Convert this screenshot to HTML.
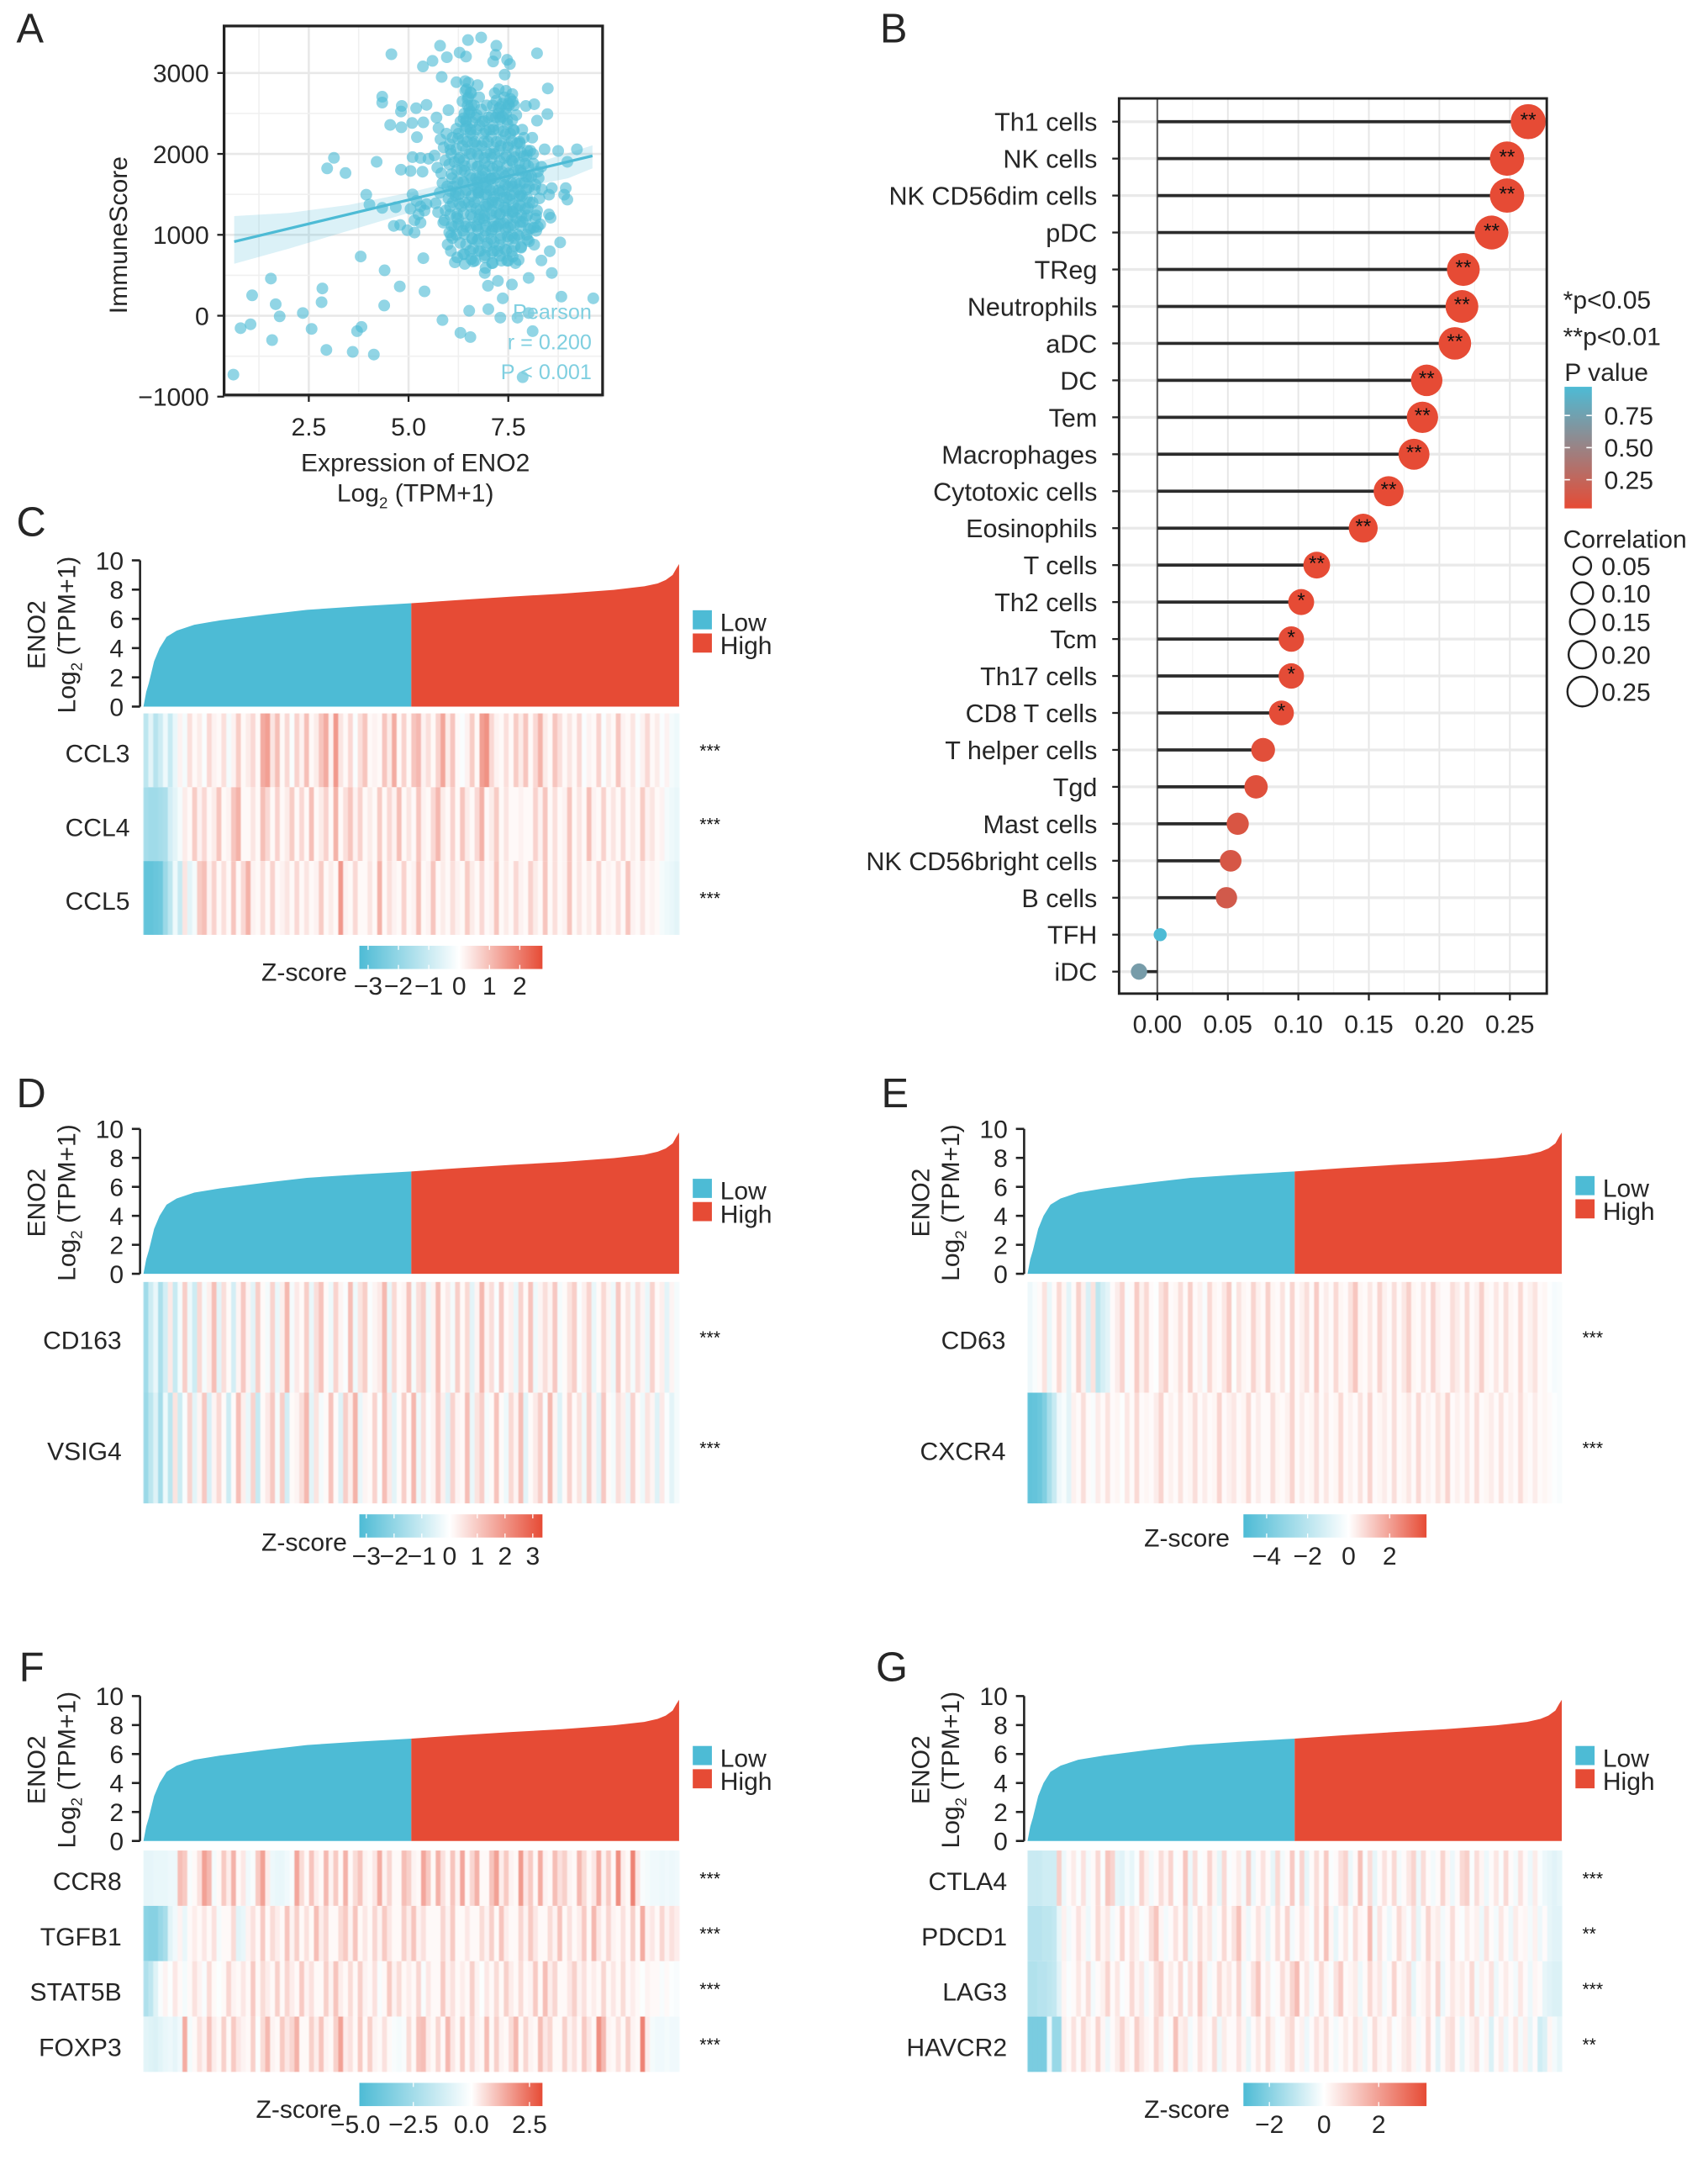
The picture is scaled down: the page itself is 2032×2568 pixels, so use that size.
<!DOCTYPE html>
<html lang="en">
<head>
<meta charset="utf-8">
<title>ENO2 immune correlation figure</title>
<style>
html,body{margin:0;padding:0;background:#fff;}
svg{display:block;}
text{font-family:"Liberation Sans",sans-serif;fill:#262626;}
</style>
</head>
<body>
<svg id="figure" xmlns="http://www.w3.org/2000/svg" width="2032" height="2568" viewBox="0 0 1250 1579.7">
<defs id="defs"><filter id="soft" x="-2%" y="-2%" width="104%" height="104%"><feGaussianBlur stdDeviation="0.4 0"/></filter></defs>
</svg>
<script>
/* ---------- Panel A data ---------- */
const scatterX=[.61,.79,1.04,1.08,1.55,1.58,1.67,1.77,2.35,2.57,2.84,2.82,2.94,3.6,3.71,3.82,4.13,4.39,4.4,3.8,
4.78,5.4,5.37,5.85,6.3,6.55,6.52,7,7.3,7.73,8.01,8.11,7.86,8.83,9.63,7.36,7.59,6.99,7.24,6.91,
8.01,8.59,8.8,8.33,8.54,8.15,8.52,8.56,8.94,8.9,8.98,8.52,8.59,8.41,8.75,9.22,8.98,8.33,8.49,8.22,
8.48,8.22,8.15,7.94,6.82,6.49,5.79,7.2,6.28,6.44,5.96,7.18,7.12,7.47,7.54,5.6,5.36,4.57,5.83,7.41,
6.2,4.34,4.34,4.83,4.81,5.19,5.45,6,4.54,4.82,5.09,5.37,5.21,4.2,3.13,2.96,3.42,4.81,5.05,3.94,
4.02,4.34,4.68,4.63,4.79,4.97,5.15,5.1,5.2,5.3,5.45,5.05,5.25,5.4,5.15,5.3,5.1,5.3,5.5,5.35,
5.7,5.75,5.8,5.65,5.72,5.85,5.78,5.68,5.74,5.9,5.95,5.88,5.92,5.82,5.97,6,5.93,5.87,6.02,5.98,
6.1,6.05,6.15,6.08,6.12,6.18,6.04,6.2,6.14,6.1,6.06,6.22,6.16,6.3,6.25,6.35,6.28,6.33,6.38,6.26,
6.32,6.24,6.36,6.29,6.4,6.42,6.45,6.5,6.48,6.52,6.44,6.55,6.47,6.53,6.41,6.58,6.46,6.51,6.56,6.43,
6.6,6.54,6.62,6.57,6.64,6.68,6.7,6.66,6.72,6.75,6.69,6.74,6.65,6.78,6.71,6.76,6.8,6.67,6.73,6.77,
6.82,6.85,6.88,6.84,6.9,6.86,6.92,6.89,6.95,6.87,6.93,6.98,6.91,6.96,7,7.03,6.99,7.05,7.02,7.08,
7.04,7.1,7.06,7.12,7.07,7.14,7.09,7.16,7.11,7.18,7.13,7.2,7.15,7.22,7.17,7.25,7.19,7.28,7.21,7.3,
7.23,7.33,7.26,7.35,7.29,7.38,7.31,7.4,7.34,7.42,7.37,7.45,7.39,7.48,7.41,7.5,7.44,7.52,7.47,7.55,
7.49,7.58,7.51,7.6,7.53,7.62,7.56,7.65,7.59,7.68,7.61,7.7,7.63,7.72,7.66,7.75,7.69,7.78,7.71,7.8,
7.74,7.82,7.76,7.85,7.79,7.88,7.81,7.9,7.84,7.93,7.86,7.96,7.89,7.98,7.92,8,7.95,8.03,7.97,8.06,
8.02,8.1,8.05,8.13,8.08,8.16,8.11,8.2,8.14,8.24,8.18,8.28,8.22,8.3,8.26,8.34,8.12,8.18,8.2,8.24,
6.7,6.9,7.1,7.3,7.5,7.7,6.8,7,7.2,7.4,7.6,7.8,6.75,6.95,7.15,7.35,7.55,7.75,6.85,7.05,
6.03,6.07,6.02,6.09,6.05,6.11,6.04,6.08,6.06,6.2,6.24,6.19,6.26,6.21,6.23,6.18,6.27,6.22,6.25,6.2,
6.38,6.42,6.37,6.44,6.39,6.41,6.36,6.43,6.4,6.38,6.42,6.39,6.44,6.37,6.41,6.56,6.6,6.55,6.61,6.57,
6.59,6.54,6.62,6.58,6.56,6.6,6.55,6.59,6.62,6.57,6.61,6.72,6.76,6.71,6.78,6.73,6.75,6.7,6.77,6.74,
6.72,6.76,6.71,6.78,6.73,6.75,6.9,6.94,6.89,6.96,6.91,6.93,6.88,6.95,6.92,6.9,6.94,6.89,6.96,6.91,
6.93,7.08,7.12,7.07,7.14,7.09,7.11,7.06,7.13,7.1,7.08,7.12,7.07,7.14,7.09,7.11,7.26,7.3,7.25,7.32,
7.27,7.29,7.24,7.31,7.28,7.26,7.3,7.25,7.32,7.27,7.29,7.44,7.48,7.43,7.5,7.45,7.47,7.42,7.49,7.46,
7.44,7.48,7.43,7.5,7.45,7.47,7.6,7.64,7.59,7.66,7.61,7.63,7.58,7.65,7.62,7.6,7.64,7.59,7.66,7.61,
7.78,7.82,7.77,7.84,7.79,7.81,7.76,7.83,7.8,7.78,7.82,7.96,8,7.95,8.02,7.97,7.99,7.94,8.01,7.98,
6.35,6.42,6.5,6.58,6.4,6.48,6.55,6.44,6.52,6.46,7.2,7.3,7.4,7.5,7.6,7.25,7.35,7.45,7.55,7.65];
const scatterY=[-728,-154,-106,252,459,-301,142,-8,33,-163,337,167,-423,-447,-191,-138,-480,126,561,732,
362,301,711,-53,-211,-264,61,81,-24,-24,33,-191,-760,236,215,215,386,370,431,528,
467,528,906,683,797,878,1252,1211,1577,1496,1435,1496,1577,2057,2037,2057,1902,1841,2809,3244,
2492,2411,2614,2593,3439,3407,3337,3337,3252,3203,3195,3224,3142,3163,3110,3150,3081,3232,2951,2980,
2886,2707,2634,2593,2524,2565,2606,2541,2358,2329,2382,2390,2207,1902,1951,1821,1764,1805,1789,1496,
1374,1333,1341,1110,1122,1057,1028,1500,1420,1350,1380,1320,1250,1300,1180,1150,1960,1950,1940,1780,
2450,2320,2180,1980,1830,1640,1520,1390,1280,1180,2250,2080,1920,1760,1600,1450,1300,1150,1030,880,
2200,2050,1900,1750,1600,1480,1350,1220,1100,960,800,720,660,2400,2250,2100,1950,1800,1650,1500,
1350,1200,1050,900,760,2900,2800,2700,2600,2500,2400,2300,2150,2000,1850,1700,1550,1400,1250,1100,
950,800,670,2750,2600,2450,2300,2150,2000,1850,1700,1550,1400,1250,1100,950,800,680,2850,2700,
2550,2400,2250,2100,1950,1800,1650,1500,1350,1200,1050,900,750,2600,2450,2300,2150,2000,1850,1700,
1550,1400,1250,1100,950,800,650,2750,2600,2450,2300,2150,2000,1850,1700,1550,1400,1250,1100,950,
800,680,2800,2620,2450,2280,2100,1950,1780,1620,1460,1300,1140,980,820,680,2780,2600,2420,2250,
2080,1920,1760,1600,1440,1280,1120,960,800,650,2650,2480,2300,2130,1960,1800,1640,1480,1320,1160,
1000,840,690,2300,2130,1970,1800,1640,1480,1320,1160,1000,2200,2040,1880,1720,1560,1400,1240,1080,
920,2200,2040,1880,1720,1560,1400,1240,1090,1780,1620,1450,1300,1130,1700,1560,2000,1200,1050,1100,
1120,1180,1060,1140,1090,1210,1310,1380,1270,1340,1290,1360,1520,1580,1470,1540,1490,1560,1720,1690,
2120,2000,1870,1700,1540,1400,1250,1110,990,2310,2190,2060,1930,1800,1660,1530,1390,1260,1130,1000,
2440,2310,2180,2050,1920,1790,1660,1530,1400,1270,1140,1010,880,760,640,2520,2390,2260,2130,2000,
1870,1740,1610,1480,1350,1220,1090,960,830,700,2230,2100,1970,1840,1710,1580,1450,1320,1190,1060,
930,800,2480,2350,1650,1520,2410,2280,2150,2020,1890,1760,1630,1500,1370,1240,1110,980,850,720,
590,2470,2340,2210,2080,1950,1820,1690,1560,1430,1300,1170,1040,910,780,650,2560,2430,2300,2170,
2040,1910,1780,1650,1520,1390,1260,1130,1000,870,740,2500,2370,2240,2110,1980,1850,1720,1590,1460,
1330,1200,1070,940,810,680,2420,2290,2160,2030,1900,1770,1640,1510,1380,1250,1120,990,860,730,
2150,2020,1890,1760,1630,1500,1370,1240,1110,980,850,1980,1850,1720,1590,1460,1330,1200,1070,940,
2650,2780,2880,2600,2500,2680,2760,2420,2550,2340,2660,2580,2700,2620,2740,2500,2460,2560,2680,2600];
const fitX=[.63,9.61];
const fitY=[915,1976];
const ribbonX=[.63,2,3.5,5,6,7,8,9,9.61];
const ribbonLow=[642,830,1050,1270,1400,1510,1600,1700,1821];
const ribbonHigh=[1232,1270,1370,1520,1640,1760,1860,2010,2106];
const scatterXTicks=[2.5,5,7.5];
const scatterYTicks=[-1000,0,1000,2000,3000];
const pearsonLabels=['Pearson','r = 0.200','P < 0.001'];

/* ---------- Panel B data ---------- */
const cellTypes=['Th1 cells','NK cells','NK CD56dim cells','pDC','TReg','Neutrophils','aDC','DC','Tem','Macrophages','Cytotoxic cells','Eosinophils','T cells','Th2 cells','Tcm','Th17 cells','CD8 T cells','T helper cells','Tgd','Mast cells','NK CD56bright cells','B cells','TFH','iDC'];
const correlations=[.263,.248,.248,.237,.217,.216,.211,.191,.188,.182,.164,.146,.113,.102,.095,.095,.088,.075,.07,.057,.052,.049,.002,-.013];
const pValues=[.02,.02,.02,.02,.02,.02,.02,.02,.02,.02,.02,.02,.02,.02,.03,.03,.03,.05,.06,.1,.12,.15,.96,.7];
const significance=['**','**','**','**','**','**','**','**','**','**','**','**','**','*','*','*','*','','','','','','',''];
const corrXTicks=[0,.05,.1,.15,.2,.25];
const pLegendTicks=[.75,.5,.25];
const corrLegendValues=[.05,.1,.15,.2,.25];

/* ---------- Shared ENO2 ranked distribution ---------- */
const rankFractions=[0,.005,.01,.02,.03,.043,.062,.095,.143,.23,.305,.4,.5,.59,.687,.782,.878,.935,.96,.975,.988,.995,1];
const enoValues=[0,1,1.6,3.1,4,4.77,5.2,5.6,5.9,6.3,6.62,6.85,7.07,7.29,7.52,7.72,7.98,8.22,8.42,8.65,9,9.45,9.75];
const enoTicks=[0,2,4,6,8,10];

/* ---------- Heatmap z-scores (ranked left to right by ENO2) ---------- */
const ccl3=[-1.2,-.5,-1.3,-.9,-.3,-1,-.4,.2,-.2,.5,.1,.3,-.1,.6,.2,.1,.5,-.2,.2,.8,.1,.3,.6,.1,1.3,1.5,.4,1,.1,.6,-.1,.7,.2,1,.1,.3,.9,1.3,.2,1.6,.4,.1,.6,-.1,.5,.9,.1,.2,.1,.9,.3,1.3,.1,.7,.1,.9,1.1,.2,.5,.1,.7,1.4,.3,.9,.1,-.1,.2,.8,.1,1.5,1.7,.6,.2,.1,.5,.1,.8,.3,.9,.1,.6,1.2,.3,.1,.9,.5,.1,.4,.1,.6,-.1,.2,.1,.7,-.1,.3,.1,.9,.2,.1,.4,-.1,.2,.6,.1,.3,-.1,.2,-.2,-.3];
const ccl4=[-1.6,-1.7,-1.7,-1.6,-1.5,-.8,-.5,-.2,.3,.1,.8,.2,.6,.1,.3,.9,.1,.2,.9,1.2,.1,.1,.4,.1,1,.6,.1,.7,.1,.3,.8,.1,.6,.1,1,.1,.3,.7,.1,1.2,.1,.5,.9,.2,.7,.1,.3,.1,.8,.1,.6,.2,1,.1,.4,.1,.9,.2,.1,.6,1.1,.3,.1,.7,.1,.9,.3,.1,.6,1.2,.1,.3,.8,.1,.4,.1,.1,.2,.1,.1,.7,.2,.9,.1,.5,.1,.2,.9,.1,.4,.1,1,.2,.1,.7,.1,.4,.1,.6,.1,.3,.1,.8,.2,.4,.1,.2,-.2,-.3,-.4];
const ccl5=[-2.8,-2.8,-2.7,-2.6,-1.8,-1.2,-.3,-1,.4,-.5,-.2,.8,1,.2,.7,.1,.5,.1,.9,.1,.6,1.2,.2,.1,.5,.1,.7,.1,.2,.4,.1,.6,.1,.4,.1,.2,.8,.1,.3,.1,1.6,.2,.1,.6,.1,.1,.4,.1,1.2,.1,.5,.2,.1,.7,.1,.2,1,.1,.2,.9,.1,.3,.1,.5,.2,.1,.8,.3,.1,.6,.1,.2,.9,.1,.3,.1,.6,.2,.1,.7,.3,.1,.9,.1,.5,.1,.2,.9,.1,.4,.1,.3,.1,.7,.1,.2,.1,.5,.1,.9,.2,.1,.4,.1,.2,.1,-.2,-.3,-.4,-.5];
const cd163=[-1.7,-.9,-.4,-1.5,-.8,.4,-1,-.2,.9,-.3,-.9,.7,-.2,.3,1.2,-.5,.6,.1,-.8,.2,1,.2,-.5,.9,.1,-.2,.8,-.4,.3,1.3,-.2,.4,.1,.9,-.4,.6,1.1,.1,-.3,.8,.2,-.1,1.2,-.3,.5,.9,-.1,.2,.4,1.3,-.4,.7,.1,.2,1.1,-.2,.6,.9,-.3,.2,1.2,.1,.4,-.2,.9,.1,.7,-.5,.2,1.3,.2,.6,-.1,1,.1,.3,-.4,.8,.1,1.1,-.3,.2,.6,.2,1,-.2,.1,.5,.9,-.1,.3,.8,-.4,.1,.7,.2,-.3,1,.1,.5,-.2,.6,.2,-.4,.8,.1,.3,-.5,.2,-.2];
const vsig4=[-1.8,-1.2,-.6,-1.6,-.3,-1.2,.5,-.9,-.1,.8,-.5,.2,1,-.7,.2,.7,.1,-.9,.1,1.2,.3,-.4,.8,-1,.1,.4,1,-.2,.9,-.8,.1,.2,.6,1.3,-.5,.5,-.2,.1,1.1,.1,-.6,.9,.3,1.4,-.4,.2,.1,.8,-.1,1.2,.4,-.5,.1,.9,.1,1.3,-.3,.6,-.1,.2,1,.3,-.6,.8,.2,.1,1.2,-.4,.5,.9,-.2,.1,1.1,.1,-.3,.7,.2,1.2,-.5,.1,.4,.9,-.1,1.3,.2,-.6,.1,.8,.1,.5,-.3,.9,.2,-.5,1,.1,-.2,.6,.3,-.4,.8,.1,-.3,.5,.2,-.6,.4,-.1,-.5,-.2];
const cd63=[-.5,-.2,.1,.6,-.6,.1,.8,.2,-.8,.1,1,.3,-1.1,.6,-1.9,-1.2,-.8,.1,.4,.9,-.2,.1,1.1,.3,.8,.1,-.1,.6,1,.1,.2,.7,.1,1,.1,.3,-.2,.8,.2,.1,.5,1.1,-.1,.6,.2,.1,.9,.3,.1,1,.2,.1,.6,-.1,.9,.1,.3,.7,.1,1.1,.1,.4,.1,.8,.2,.1,.6,1.2,.2,.1,.5,.1,.9,.3,.1,.7,.1,.5,1,.2,.1,.6,.1,.9,.3,.1,.1,.7,.4,.1,.8,.1,.3,1,.2,.1,.5,.1,.7,.2,.1,.8,.1,.3,.6,.1,.2,-.1,-.3,-.2];
const cxcr4=[-4.5,-4.4,-4.2,-3.6,-2.5,-1.6,-.5,-.2,-.8,.3,.1,.7,.1,-.2,.4,.1,.6,.1,.2,-.1,.5,.1,.8,.1,.2,.1,.4,.9,.1,.3,.1,.6,.1,.2,.7,.1,.4,.1,.2,.9,.1,.3,.5,.1,.2,.8,.1,.4,.1,.1,.7,.2,.1,.3,.9,.1,.4,.1,.2,.7,.1,.5,.1,.2,.8,.1,.3,.1,.6,.1,.9,.1,.2,.4,.1,.7,.1,.2,.5,.1,.8,.1,.3,.1,.6,.2,.9,.1,.3,.1,.5,.1,.7,.1,.2,.4,.1,.6,.1,.3,.1,.7,.2,.1,.4,.1,.2,.1,-.1,-.2];
const ccr8=[-.7,-.7,-.6,-.6,-.6,-.5,-.5,1.1,.9,-.2,.1,.5,1.6,1.2,-.3,.1,.9,.3,1.3,.1,.4,-.4,-.2,.9,1.6,.3,-.5,-.6,-.6,-.4,-.2,1.5,.6,.1,1,.3,.1,1.2,.2,.9,.1,1.3,.1,.6,1,.2,.1,.4,1.4,.2,.7,.1,.1,1.1,.8,.2,.1,1.5,.9,.1,1.3,.5,.1,1,.2,1.5,.1,.7,1.3,.1,.1,1,1.6,.3,.9,.2,.1,1.7,.4,.9,.1,1.4,.2,.1,1.1,.5,.8,.2,.1,1.2,.6,.1,.4,1.4,.2,.9,.1,1.9,.3,.1,2.1,.4,-.2,-.3,-.4,-.4,-.5,-.4,-.5,-.4];
const tgfb1=[-3.2,-3.3,-3.3,-2.8,-2.4,-.8,-.4,.2,-.6,.1,.3,.1,.4,.1,.5,-.3,.1,.1,.6,-.8,-.6,.2,.5,.1,.9,.1,.6,.3,.1,1,.2,.8,.1,.5,.1,1.1,.3,.7,.1,.1,.6,.9,.2,1,.1,.4,.1,.7,.2,.9,.4,.1,.1,.8,.3,1,.2,.5,.1,.1,.1,.7,.2,.9,.1,.1,.4,.1,.1,.6,.2,.8,.1,1,.3,.1,.1,.7,.2,.9,.4,.1,.1,.6,.2,1,.1,.5,.1,.3,.9,.1,1.2,.4,.1,.7,.2,.1,.5,.1,.8,.1,1.4,.2,.4,.1,.7,.2,.5,.3];
const stat5b=[-2.2,-1.8,-.9,-.2,.2,-.1,.4,.1,-.3,.1,.5,.2,-.2,.6,.1,-.1,.1,.7,.2,.1,.4,.1,.9,.1,.6,.3,.1,.8,.1,.7,.3,.1,.9,.2,.5,.1,.1,.8,.2,1,.3,.1,.6,.1,.8,.2,.1,.5,-.2,.1,.9,.2,.6,.1,.3,.1,.7,-.2,.4,.1,.1,.9,.2,.5,.1,.3,.1,.8,.2,-.1,.4,.1,.6,.1,.8,.3,.1,.6,.1,.2,.9,.1,1.1,.3,.7,.1,.1,.4,.8,.2,.5,.1,.3,.1,.7,.1,.4,.1,.6,.1,.3,.1,-.1,.2,.1,.1,-.2,.1,-.1,-.2];
const foxp3=[-.8,-.9,-1,-.8,-.6,-.5,-.7,-.4,1.4,-.3,.1,.5,.2,1,.3,.1,.8,.1,.9,.4,.2,.1,.8,-.1,.6,1.2,.2,.1,.9,.4,.7,1.3,.1,.1,.8,.3,1,.2,.1,.8,1.6,.3,.5,.1,.9,.1,.8,.2,.1,.5,.1,-.2,-.3,-.2,.6,.1,1,1.1,.3,.1,.7,.1,1.2,.4,.1,.9,.1,.7,.2,.1,1.1,.1,.8,.2,.1,.6,1.2,.1,.7,.2,.1,1.1,.4,.7,.1,.1,.8,.2,.5,.1,.9,.4,.1,1.9,1.2,.2,.1,.5,.1,.8,.2,.1,2.1,.3,-.3,-.4,-.4,-.3,-.4,-.4];
const ctla4=[-.9,-.9,-.9,-.8,-.8,-.8,1,-.3,.1,.4,-.1,.6,-.2,.1,.8,-.1,1.2,.9,-.4,-.5,-.2,-.4,-.1,.9,.3,-.2,.1,.7,.2,.9,-.1,.1,1.2,-.3,.7,-.1,.1,.9,.2,-.4,.8,-.1,.1,.4,-.2,1,-.3,.1,.6,.1,-.4,.8,-.2,.1,1.1,-.1,.9,-.4,.1,.7,.1,1.1,-.1,.1,.6,.9,-.3,.1,1.3,-.1,.7,-.4,.1,.6,.1,.8,-.2,.1,.5,.9,-.3,.7,.1,-.2,.1,.9,.2,-.3,.1,.8,1,-.1,.7,.2,-.3,.1,.5,-.1,.8,.1,-.2,.6,.1,-.3,.4,-.1,-.3,-.4,-.5,-.4];
const pdcd1=[-1.2,-1.2,-1.2,-1.1,-1.1,-1,-.4,.3,-.2,.1,.6,.2,-.3,.1,.8,.2,.5,-.2,.1,.9,.1,.6,.3,-.1,.1,.7,1.2,.2,-.2,.1,.6,.1,.9,-.3,.1,.7,.2,.5,-.2,.1,.8,.1,.6,1.3,.2,-.3,.1,.6,.2,-.4,.1,.7,.1,.9,-.2,.1,.6,.2,-.1,.8,.1,1.3,.2,-.4,.1,.5,-.1,.7,.2,.1,1.4,-.2,.6,.1,-.3,.1,.8,.3,-.1,.6,-.4,.1,.9,.2,.4,-.2,.1,.7,.1,-.1,.4,.1,.3,-.3,.6,.1,-.2,.5,.1,-.3,.4,.1,.2,-.2,.3,-.3,.1,-.4,-.5,-.5];
const lag3=[-1.3,-1.3,-1.2,-1.2,-1.1,-1,-.5,.2,-.1,.1,.5,.1,.7,-.2,.1,.3,.9,.1,.5,-.1,.1,.8,.2,.5,-.2,.1,.7,1,.1,.4,.1,.8,-.1,.6,.1,1.1,.3,-.2,.1,.8,.2,.5,.1,.9,-.2,.1,.6,1.2,.1,.4,-.1,.1,.7,.2,.9,1.4,.1,.5,-.2,.1,.8,.2,-.1,.6,1.1,.1,.2,.4,-.3,.1,.8,.2,.5,-.2,.1,.9,.1,.3,.7,-.4,.1,.2,.6,.1,.9,-.3,.1,.5,.2,.4,.1,.8,-.2,.3,.1,.6,-.3,.1,.4,.1,-.2,.5,.1,-.3,.2,.1,-.4,-.5,-.6,-.6];
const havcr2=[-2.2,-2.2,-2.2,-2.2,-.3,-1.7,-1.7,.3,.1,.6,.1,.8,.3,.1,.9,.2,-.3,.1,.4,.9,.3,.1,1,.5,.2,.1,.9,.4,-.1,.1,1.3,.3,.5,-.2,.1,.6,.2,.1,.7,-.3,.4,.1,.1,.6,.2,-.4,.1,.5,.1,.8,.3,-.1,.1,.5,.8,.1,.3,-.3,.1,.6,.2,.7,.1,-.2,.1,.4,.1,.6,.3,-.3,.1,.7,.2,.1,.5,-.1,.1,.4,.6,.2,-.2,.1,.8,.1,-.5,.1,.5,.7,.1,-.4,.1,.3,.6,-.1,.2,-.6,.1,.4,-.3,.1,.5,-.2,.3,-.4,.1,-.8,-.6,.2,-.2,-.4];

/* ---------- Helpers ---------- */
const SVGNS='http://www.w3.org/2000/svg';
const root=document.getElementById('figure');
const defs=document.getElementById('defs');
const BLUE=[77,187,213],RED=[230,75,53],WHITE=[255,255,255];
const FS=18.5;
function mix(a,b,t){t=Math.max(0,Math.min(1,t));return 'rgb('+a.map((v,i)=>Math.round(v+(b[i]-v)*t)).join(',')+')';}
function mk(tag,attrs,name,parent){
  const el=document.createElementNS(SVGNS,tag);
  for(const k in attrs){el.setAttribute(k,attrs[k]);}
  
  
  (parent||root).appendChild(el);
  return el;
}
function group(name,parent){return mk('g',{},name,parent);}
function line(x1,y1,x2,y2,stroke,w,name,parent){return mk('line',{x1:x1,y1:y1,x2:x2,y2:y2,stroke:stroke,'stroke-width':w},name,parent);}
function text(s,x,y,size,anchor,name,parent,fill){
  const attrs={x:x,y:y+size*0.36,'font-size':size,'text-anchor':anchor||'start'};
  if(fill){attrs.style='fill:'+fill;}
  const el=mk('text',attrs,name,parent);
  el.textContent=s;
  return el;
}
function vtext(s,x,y,size,name,parent){
  const el=mk('text',{x:x,y:y,'font-size':size,'text-anchor':'middle',transform:'rotate(-90 '+x+' '+y+')'},name,parent);
  el.textContent=s;
  return el;
}
function log2Label(el){
  const a=document.createElementNS(SVGNS,'tspan');a.textContent='Log';
  const b=document.createElementNS(SVGNS,'tspan');b.textContent='2';b.setAttribute('font-size','11.5');b.setAttribute('dy','5');
  const c=document.createElementNS(SVGNS,'tspan');c.textContent=' (TPM+1)';c.setAttribute('dy','-5');
  el.appendChild(a);el.appendChild(b);el.appendChild(c);
}
function starText(s,cx,cy,size,anchor,name,parent){
  const el=mk('text',{x:cx,y:cy+size*0.5,'font-size':size,'text-anchor':anchor||'middle',style:'fill:#111'},name,parent);
  el.textContent=s;
  return el;
}
function minusLabel(v,dec){
  const s=Math.abs(v).toFixed(dec);
  return (v<0?'\u2212':'')+s;
}
function panelLetter(s,x,y){
  const el=mk('text',{x:x,y:y,'font-size':30},'panel-label-'+s.toLowerCase(),root);
  el.textContent=s;
}

/* ---------- Panel A ---------- */
function drawScatter(){
  const g=group('panel-a-scatter');
  const L=164,R=441,T=19,B=289;
  const X=v=>299+(v-5)*29.2;
  const Y=v=>231-v*0.0592;
  mk('rect',{x:L,y:T,width:R-L,height:B-T,fill:'#fff'},'plot-background',g);
  for(let v=1.25;v<10;v+=2.5){line(X(v),T,X(v),B,'#f0f0f0',1,'minor-gridline-x',g);}
  scatterXTicks.forEach(v=>line(X(v),T,X(v),B,'#e8e8e8',1.6,'major-gridline-x',g));
  [-500,500,1500,2500].forEach(v=>line(L,Y(v),R,Y(v),'#f0f0f0',1,'minor-gridline-y',g));
  scatterYTicks.forEach(v=>line(L,Y(v),R,Y(v),'#e8e8e8',1.6,'major-gridline-y',g));
  let d='M';
  ribbonX.forEach((v,i)=>{d+=X(v).toFixed(1)+' '+Y(ribbonHigh[i]).toFixed(1)+' L';});
  for(let i=ribbonX.length-1;i>=0;i--){d+=X(ribbonX[i]).toFixed(1)+' '+Y(ribbonLow[i]).toFixed(1)+(i?' L':' Z');}
  mk('path',{d:d,fill:'#4DBBD5','fill-opacity':.2},'confidence-ribbon',g);
  line(X(fitX[0]),Y(fitY[0]),X(fitX[1]),Y(fitY[1]),'#4DBBD5',2,'regression-line',g);
  scatterX.forEach((v,i)=>{
    if(scatterY[i]===undefined)return;
    mk('circle',{cx:X(v),cy:Y(scatterY[i]),r:4.3,fill:'#4DBBD5','fill-opacity':.62},'scatter-point',g);
  });
  pearsonLabels.forEach((s,i)=>text(s,433,228+i*22,15.5,'end','pearson-annotation',g,'#7fcfe0'));
  mk('rect',{x:L,y:T,width:R-L,height:B-T,fill:'none',stroke:'#222','stroke-width':2},'plot-frame',g);
  scatterXTicks.forEach(v=>{
    line(X(v),B,X(v),B+5,'#222',1.4,'x-tick',g);
    text(v.toFixed(1),X(v),312,FS,'middle','x-tick-label',g);
  });
  scatterYTicks.forEach(v=>{
    line(L-5,Y(v),L,Y(v),'#222',1.4,'y-tick',g);
    text(minusLabel(v,0),153,Y(v),FS,'end','y-tick-label',g);
  });
  text('Expression of ENO2',304,338,FS,'middle','x-axis-title',g);
  const l=mk('text',{x:304,y:367,'font-size':FS,'text-anchor':'middle'},'x-axis-title-units',g);
  log2Label(l);
  vtext('ImmuneScore',93,172,FS,'y-axis-title',g);
}

/* ---------- Panel B ---------- */
function drawLollipop(){
  const g=group('panel-b-lollipop');
  const L=819,R=1132,T=72,B=727;
  const X=v=>847+v*1032;
  const Y=i=>89+i*27.04;
  const radius=v=>(6.5+28*Math.sqrt(Math.abs(v)))/1.6256;
  const pColor=p=>mix(RED,BLUE,(p-.02)/.94);
  mk('rect',{x:L,y:T,width:R-L,height:B-T,fill:'#fff'},'plot-background',g);
  for(let v=.025;v<.27;v+=.05){line(X(v),T,X(v),B,'#f3f3f3',.8,'minor-gridline-x',g);}
  corrXTicks.forEach(v=>line(X(v),T,X(v),B,'#e6e6e6',1.2,'major-gridline-x',g));
  cellTypes.forEach((c,i)=>line(L,Y(i),R,Y(i),'#e9e9e9',2,'row-gridline',g));
  line(X(0),T,X(0),B,'#666',1.4,'zero-line',g);
  correlations.forEach((v,i)=>{
    line(X(0),Y(i),X(v),Y(i),'#2b2b2b',2.3,'lollipop-stem-'+cellTypes[i].toLowerCase().replace(/ /g,'-'),g);
    mk('circle',{cx:X(v),cy:Y(i),r:radius(v),fill:pColor(pValues[i])},'lollipop-dot-'+cellTypes[i].toLowerCase().replace(/ /g,'-'),g);
    if(significance[i]){starText(significance[i],X(v),Y(i)-4,15,'middle','significance-mark',g);}
  });
  mk('rect',{x:L,y:T,width:R-L,height:B-T,fill:'none',stroke:'#222','stroke-width':1.8},'plot-frame',g);
  cellTypes.forEach((c,i)=>{
    line(L-5,Y(i),L,Y(i),'#222',1.4,'y-tick',g);
    text(c,803,Y(i),18.8,'end','cell-type-label',g);
  });
  corrXTicks.forEach(v=>{
    line(X(v),B,X(v),B+5,'#222',1.4,'x-tick',g);
    text(v.toFixed(2),X(v),749,FS,'middle','x-tick-label',g);
  });
  text('*p<0.05',1144,219,FS,'start','legend-note-p05',g);
  text('**p<0.01',1144,246,FS,'start','legend-note-p01',g);
  text('P value',1145,272,FS,'start','p-value-legend-title',g);
  const grad=mk('linearGradient',{id:'pgrad',x1:0,y1:0,x2:0,y2:1},'p-value-gradient',defs);
  mk('stop',{offset:'0%','stop-color':'#4DBBD5'},'gradient-stop',grad);
  mk('stop',{offset:'100%','stop-color':'#E64B35'},'gradient-stop',grad);
  mk('rect',{x:1145,y:283,width:20,height:89,fill:'url(#pgrad)'},'p-value-colorbar',g);
  const PY=p=>374.5-p*94;
  pLegendTicks.forEach(p=>{
    line(1145,PY(p),1149,PY(p),'#fff',1,'colorbar-tick',g);
    line(1161,PY(p),1165,PY(p),'#fff',1,'colorbar-tick',g);
    text(p.toFixed(2),1174,PY(p),FS,'start','p-value-legend-label',g);
  });
  text('Correlation',1144,394,FS,'start','correlation-legend-title',g);
  corrLegendValues.forEach((v,i)=>{
    const ys=[414,434,455,479,506];
    mk('circle',{cx:1158,cy:ys[i],r:(5+28*Math.sqrt(v))/1.6256*.93,fill:'none',stroke:'#222','stroke-width':1.5},'correlation-legend-circle',g);
    text(v.toFixed(2),1172,ys[i],FS,'start','correlation-legend-label',g);
  });
}

/* ---------- Ranked bar + heatmap panels ---------- */
function drawRankPanel(cfg){
  const g=group('panel-'+cfg.id+'-ranked-heatmap');
  const x0=cfg.x0,x1=cfg.x1;
  const X=f=>x0+(x1-x0)*f;
  const Y=v=>cfg.y0-(cfg.y0-cfg.y10)*v/10;
  let low='M'+X(0)+' '+Y(0),high='M'+X(.5)+' '+Y(0);
  rankFractions.forEach((f,i)=>{
    if(f<=.5){low+=' L'+X(f).toFixed(1)+' '+Y(enoValues[i]).toFixed(1);}
    if(f>=.5){high+=' L'+X(f).toFixed(1)+' '+Y(enoValues[i]).toFixed(1);}
  });
  low+=' L'+X(.5)+' '+Y(0)+' Z';
  high+=' L'+X(1)+' '+Y(0)+' Z';
  mk('path',{d:low,fill:'#4DBBD5'},'low-expression-area',g);
  mk('path',{d:high,fill:'#E64B35'},'high-expression-area',g);
  const axisX=x0-2.5;
  line(axisX,Y(0),axisX,Y(10),'#222',1.6,'y-axis-line',g);
  enoTicks.forEach(v=>{
    line(axisX-6,Y(v),axisX,Y(v),'#222',1.6,'y-tick',g);
    text(String(v),axisX-12,Y(v),FS,'end','y-tick-label',g);
  });
  const my=(cfg.y0+cfg.y10)/2+1;
  vtext('ENO2',x0-72,my,FS,'y-axis-title',g);
  const l=vtext('',x0-50,my,FS,'y-axis-title-units',g);
  log2Label(l);
  mk('rect',{x:x1+10,y:cfg.legY-8.5,width:14,height:14,fill:'#4DBBD5'},'legend-swatch-low',g);
  text('Low',x1+30,cfg.legY,FS,'start','legend-label-low',g);
  mk('rect',{x:x1+10,y:cfg.legY+8.5,width:14,height:14,fill:'#E64B35'},'legend-swatch-high',g);
  text('High',x1+30,cfg.legY+17,FS,'start','legend-label-high',g);
  const n=cfg.genes.length;
  const rowH=(cfg.heatB-cfg.heatT)/n;
  const zc=z=>z<0?mix(WHITE,BLUE,-z/Math.abs(cfg.zMin)):mix(WHITE,RED,z/cfg.zMax);
  const hg=mk('g',{filter:'url(#soft)'},'heatmap-cells',g);
  cfg.genes.forEach((gene,r)=>{
    const vals=cfg.rows[r];
    const W=(x1-x0)/vals.length;
    const top=cfg.heatT+r*rowH;
    vals.forEach((z,c)=>{
      mk('rect',{x:(x0+c*W).toFixed(2),y:top.toFixed(2),width:(W+.3).toFixed(2),height:rowH.toFixed(2),fill:zc(z)},'heat-cell-'+gene.toLowerCase(),hg);
    });
    text(gene,cfg.labelR,top+rowH/2+2,FS,'end','gene-label-'+gene.toLowerCase(),g);
    starText(cfg.stars[r],x1+15,top+rowH/2-2,13,'start','significance-mark',g);
  });
  const cb=cfg.cbar;
  const gradId='zgrad-'+cfg.id;
  const grad=mk('linearGradient',{id:gradId,x1:0,y1:0,x2:1,y2:0},'z-score-gradient',defs);
  mk('stop',{offset:'0%','stop-color':'#4DBBD5'},'gradient-stop',grad);
  mk('stop',{offset:((cb.zero-cb.x0)/(cb.x1-cb.x0)*100).toFixed(1)+'%','stop-color':'#fff'},'gradient-stop',grad);
  mk('stop',{offset:'100%','stop-color':'#E64B35'},'gradient-stop',grad);
  mk('rect',{x:cb.x0,y:cb.y0,width:cb.x1-cb.x0,height:cb.y1-cb.y0,fill:'url(#'+gradId+')'},'z-score-colorbar',g);
  const CX=v=>cb.zero+v*cb.unit;
  cb.ticks.forEach(v=>{
    line(CX(v),cb.y0,CX(v),cb.y0+3,'#fff',.8,'colorbar-tick',g);
    line(CX(v),cb.y1-3,CX(v),cb.y1,'#fff',.8,'colorbar-tick',g);
    text(minusLabel(v,cb.dec),CX(v),cb.tickY,FS,'middle','z-score-tick-label',g);
  });
  text('Z-score',cb.labelX,cb.labelY,FS,'end','z-score-legend-title',g);
}

panelLetter('A',12,31);panelLetter('B',644,31);panelLetter('C',12,392);panelLetter('D',12,810);panelLetter('E',645,810);panelLetter('F',14,1230);panelLetter('G',641,1230);
drawScatter();
drawLollipop();
const panelC={id:'c',x0:105,x1:497,y10:410,y0:517,heatT:522,heatB:684,labelR:95,legY:455,genes:['CCL3','CCL4','CCL5'],rows:[ccl3,ccl4,ccl5],stars:['***','***','***'],zMin:-3.2,zMax:2.8,
 cbar:{x0:263,x1:397,y0:692,y1:709,zero:336,unit:22.2,ticks:[-3,-2,-1,0,1,2],dec:0,tickY:721,labelX:254,labelY:711}};
const panelD={id:'d',x0:105,x1:497,y10:826,y0:932,heatT:938,heatB:1100,labelR:89,legY:871,genes:['CD163','VSIG4'],rows:[cd163,vsig4],stars:['***','***'],zMin:-3.2,zMax:3.3,
 cbar:{x0:263,x1:397,y0:1108,y1:1125,zero:329,unit:20.3,ticks:[-3,-2,-1,0,1,2,3],dec:0,tickY:1138,labelX:254,labelY:1128}};
const panelE={id:'e',x0:752,x1:1143,y10:826,y0:932,heatT:938,heatB:1100,labelR:736,legY:869,genes:['CD63','CXCR4'],rows:[cd63,cxcr4],stars:['***','***'],zMin:-5.1,zMax:3.8,
 cbar:{x0:910,x1:1044,y0:1108,y1:1125,zero:987,unit:15,ticks:[-4,-2,0,2],dec:0,tickY:1138,labelX:900,labelY:1125}};
const panelF={id:'f',x0:105,x1:497,y10:1241,y0:1347,heatT:1354,heatB:1516,labelR:89,legY:1286,genes:['CCR8','TGFB1','STAT5B','FOXP3'],rows:[ccr8,tgfb1,stat5b,foxp3],stars:['***','***','***','***'],zMin:-4.9,zMax:3.05,
 cbar:{x0:263,x1:397,y0:1524,y1:1541,zero:345,unit:17,ticks:[-5,-2.5,0,2.5],dec:1,tickY:1554,labelX:250,labelY:1543}};
const panelG={id:'g',x0:752,x1:1143,y10:1241,y0:1347,heatT:1354,heatB:1516,labelR:737,legY:1286,genes:['CTLA4','PDCD1','LAG3','HAVCR2'],rows:[ctla4,pdcd1,lag3,havcr2],stars:['***','**','***','**'],zMin:-2.95,zMax:3.75,
 cbar:{x0:910,x1:1044,y0:1524,y1:1541,zero:969,unit:20,ticks:[-2,0,2],dec:0,tickY:1554,labelX:900,labelY:1543}};
[panelC,panelD,panelE,panelF,panelG].forEach(drawRankPanel);
</script>
</body>
</html>
